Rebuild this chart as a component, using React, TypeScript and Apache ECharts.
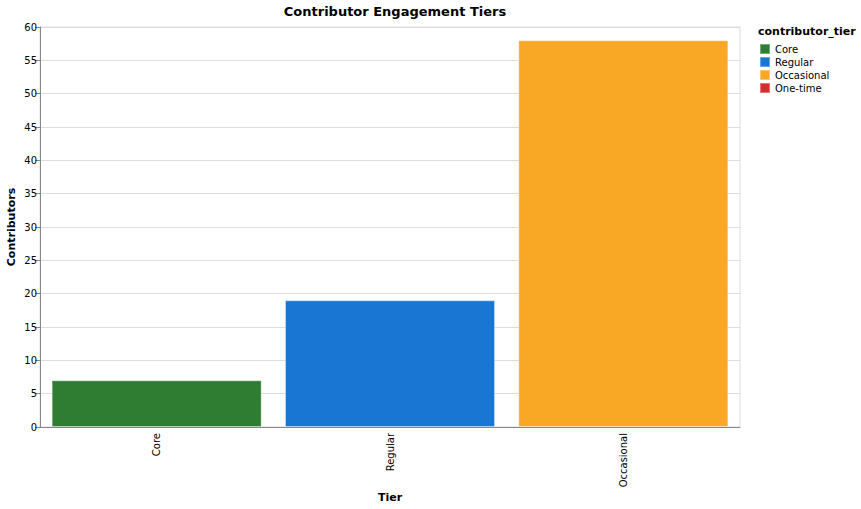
import React, { useEffect, useRef } from "react";
import * as echarts from "echarts";

const categories = ["Core", "Regular", "Occasional"];
const tiers = ["Core", "Regular", "Occasional", "One-time"];
const tierValues: Record<string, number | null> = { Core: 7, Regular: 19, Occasional: 58, "One-time": null };
const tierColors = ["#2e7d32", "#1976d2", "#f9a825", "#d32f2f"];
const yTicks = { min: 0, max: 60, interval: 5 };

const FONT = "DejaVu Sans";

export default function App() {
  const ref = useRef<HTMLDivElement>(null);
  useEffect(() => {
    document.body.style.margin = "0";
    const chart = echarts.init(ref.current!, null, { renderer: "svg" });
    const series = tiers.map((t, i) => ({
      name: t,
      type: "bar",
      stack: "all",
      barCategoryGap: "10%",
      itemStyle: { color: tierColors[i], borderColor: "rgba(255,255,255,0.35)", borderWidth: 1 },
      data: categories.map((c) => (c === t ? tierValues[t] : null)),
    }));
    chart.setOption({
      animation: false,
      textStyle: { fontFamily: FONT },
      title: {
        text: "Contributor Engagement Tiers",
        left: 390,
        top: 0,
        textAlign: "center",
        textStyle: { fontFamily: FONT, fontSize: 13, fontWeight: "bold", color: "#000" },
      },
      grid: {
        left: 40,
        right: 121,
        top: 27,
        bottom: 82,
        outerBoundsMode: "none",
        containLabel: false,
        show: true,
        borderColor: "#ddd",
        borderWidth: 1,
        backgroundColor: "transparent",
      },
      legend: {
        orient: "vertical",
        left: 759,
        top: 43,
        icon: "rect",
        itemWidth: 10,
        itemHeight: 10,
        itemGap: 1,
        padding: 0,
        data: tiers,
        textStyle: { fontFamily: FONT, fontSize: 10, color: "#000" },
        selectedMode: false,
      },
      xAxis: {
        type: "category",
        data: categories,
        name: "Tier",
        nameLocation: "middle",
        nameGap: 65,
        nameMoveOverlap: false,
        nameTextStyle: { fontFamily: FONT, fontSize: 11, fontWeight: "bold", color: "#000" },
        axisLine: { lineStyle: { color: "#888" } },
        axisTick: { alignWithLabel: true, length: 5, lineStyle: { color: "#888" } },
        axisLabel: { rotate: 90, fontFamily: FONT, fontSize: 10, color: "#000", margin: 6 },
      },
      yAxis: {
        type: "value",
        min: yTicks.min,
        max: yTicks.max,
        interval: yTicks.interval,
        name: "Contributors",
        nameLocation: "middle",
        nameGap: 23,
        nameMoveOverlap: false,
        nameTextStyle: { fontFamily: FONT, fontSize: 11, fontWeight: "bold", color: "#000" },
        axisLine: { show: true, lineStyle: { color: "#888" } },
        axisTick: { show: true, length: 5, lineStyle: { color: "#888" } },
        axisLabel: { fontFamily: FONT, fontSize: 10, color: "#000", margin: 3 },
        splitLine: { lineStyle: { color: "#ddd" } },
      },
      graphic: [
        {
          type: "text",
          left: 758,
          top: 26,
          style: { text: "contributor_tier", font: `bold 11px "${FONT}"`, fill: "#000" },
        },
      ],
      series,
    });
    return () => chart.dispose();
  }, []);
  return <div ref={ref} style={{ width: 861, height: 509 }} />;
}
